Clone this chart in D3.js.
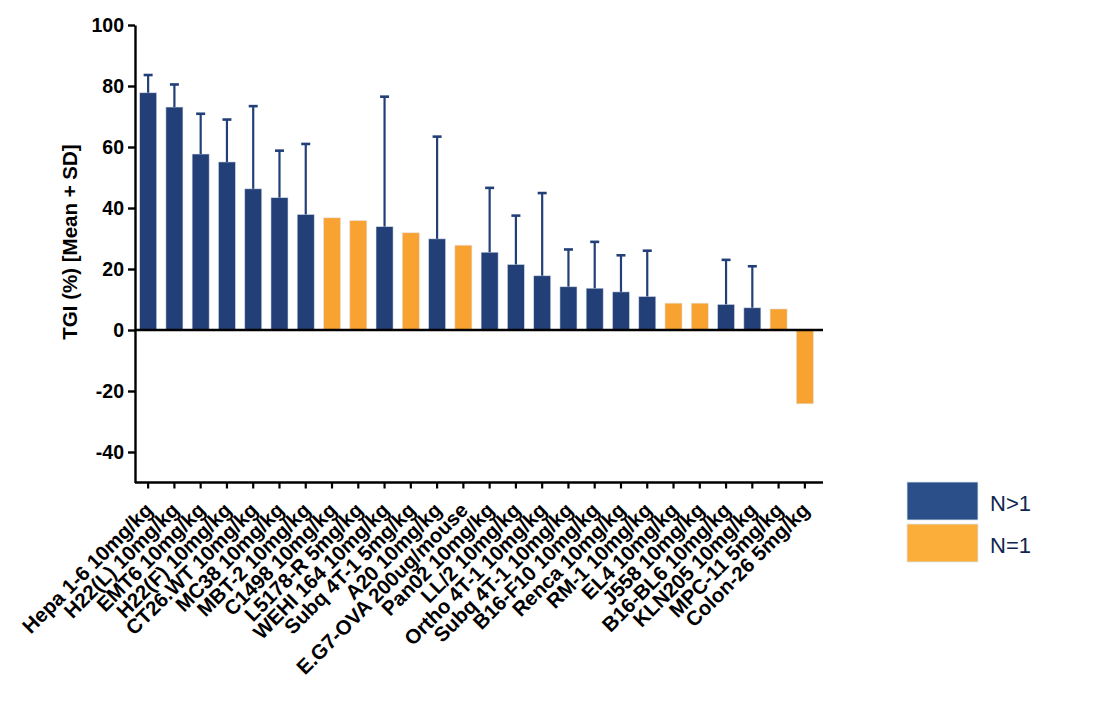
<!DOCTYPE html>
<html>
<head>
<meta charset="utf-8">
<script src="https://cdn.jsdelivr.net/npm/d3@7"></script>
<style>
  body { margin: 0; background: #fff; }
  svg, svg text { font-family: "Liberation Sans", Arial, sans-serif; }
</style>
</head>
<body>
<div id="chart"></div>
<script>
// Tumour models, in plotted order
const models = [
    'Hepa 1-6 10mg/kg', 'H22(L) 10mg/kg', 'EMT6 10mg/kg', 'H22(F) 10mg/kg',
    'CT26.WT 10mg/kg', 'MC38 10mg/kg', 'MBT-2 10mg/kg', 'C1498 10mg/kg',
    'L5178-R 5mg/kg', 'WEHI 164 10mg/kg', 'Subq 4T-1 5mg/kg', 'A20 10mg/kg',
    'E.G7-OVA 200ug/mouse', 'Pan02 10mg/kg', 'LL/2 10mg/kg', 'Ortho 4T-1 10mg/kg',
    'Subq 4T-1 10mg/kg', 'B16-F10 10mg/kg', 'Renca 10mg/kg', 'RM-1 10mg/kg',
    'EL4 10mg/kg', 'J558 10mg/kg', 'B16-BL6 10mg/kg', 'KLN205 10mg/kg',
    'MPC-11 5mg/kg', 'Colon-26 5mg/kg'
];
// mean TGI (%)
const tgiMean = [77.8, 73.1, 57.7, 55.1, 46.3, 43.4, 37.9, 36.8, 35.9, 33.9, 31.9, 29.9,
                 27.8, 25.5, 21.5, 17.8, 14.2, 13.7, 12.5, 11.0, 8.8, 8.8, 8.4, 7.3, 6.9, -24.2];
// SD (null where N = 1)
const tgiSD = [5.8, 7.4, 13.2, 13.9, 27.1, 15.4, 23.1, null, null, 42.6, null, 33.5,
               null, 21.1, 16.0, 27.1, 12.2, 15.2, 12.0, 15.0, null, null, 14.6, 13.6, null, null];
// group per model
const groups = ['N>1', 'N>1', 'N>1', 'N>1', 'N>1', 'N>1', 'N>1', 'N=1', 'N=1', 'N>1', 'N=1', 'N>1',
                'N=1', 'N>1', 'N>1', 'N>1', 'N>1', 'N>1', 'N>1', 'N>1', 'N=1', 'N=1', 'N>1', 'N>1', 'N=1', 'N=1'];
const yTicks = [-40, -20, 0, 20, 40, 60, 80, 100];
const legendItems = [
    { label: 'N>1', color: '#2b5089' },
    { label: 'N=1', color: '#fbae3a' }
];

const barColor = { 'N>1': '#223f78', 'N=1': '#f8a232' };

const data = models.map((m, i) => ({ model: m, mean: tgiMean[i], sd: tgiSD[i], group: groups[i] }));

const width = 1094, height = 703;
const svg = d3.select('#chart').append('svg')
    .attr('width', width)
    .attr('height', height);

const x = d3.scaleBand()
    .domain(models)
    .range([135, 818])
    .paddingInner(0.35)
    .paddingOuter(0.175);

const y = d3.scaleLinear()
    .domain([-50, 100])
    .range([482.5, 25]);

// bars
svg.append('g')
    .selectAll('rect')
    .data(data)
    .enter()
    .append('rect')
    .attr('x', d => x(d.model))
    .attr('width', x.bandwidth())
    .attr('y', d => y(Math.max(0, d.mean)))
    .attr('height', d => Math.abs(y(d.mean) - y(0)))
    .attr('fill', d => barColor[d.group])
    .attr('stroke', '#e4e8f0')
    .attr('stroke-opacity', 0.7)
    .attr('stroke-width', 0.8);

// error bars (mean + SD)
const err = svg.append('g')
    .selectAll('g')
    .data(data.filter(d => d.sd != null))
    .enter()
    .append('g')
    .attr('stroke', '#223f78');

err.append('line')
    .attr('x1', d => x(d.model) + x.bandwidth() / 2)
    .attr('x2', d => x(d.model) + x.bandwidth() / 2)
    .attr('y1', d => y(d.mean))
    .attr('y2', d => y(d.mean + d.sd))
    .attr('stroke-width', 2.2);

err.append('line')
    .attr('x1', d => x(d.model) + x.bandwidth() / 2 - 4.5)
    .attr('x2', d => x(d.model) + x.bandwidth() / 2 + 4.5)
    .attr('y1', d => y(d.mean + d.sd))
    .attr('y2', d => y(d.mean + d.sd))
    .attr('stroke-width', 2.6);

// zero line
const xEnd = x.range()[1] + 5;
svg.append('line')
    .attr('x1', x.range()[0])
    .attr('x2', xEnd)
    .attr('y1', y(0))
    .attr('y2', y(0))
    .attr('stroke', '#000')
    .attr('stroke-width', 2.6);

// y axis
const yAxis = svg.append('g')
    .attr('transform', `translate(${x.range()[0]},0)`)
    .call(d3.axisLeft(y).tickValues(yTicks).tickFormat(d => String(d))
        .tickSize(7).tickSizeOuter(0).tickPadding(4));
yAxis.attr('font-family', null);
yAxis.select('.domain').attr('stroke-width', 2.4);
yAxis.selectAll('.tick line').attr('stroke-width', 2.4);
yAxis.selectAll('text')
    .style('font-size', '19.5px')
    .style('font-weight', 'bold')
    .attr('fill', '#000');

// x axis
const xAxis = svg.append('g')
    .attr('transform', `translate(0,${y(-50)})`)
    .call(d3.axisBottom(x).tickSize(6).tickSizeOuter(0));
xAxis.attr('font-family', null);
xAxis.select('.domain').remove();
xAxis.selectAll('.tick line').attr('stroke-width', 2.2);
xAxis.selectAll('text')
    .style('font-size', '20.5px')
    .style('font-weight', 'bold')
    .attr('fill', '#000')
    .attr('text-anchor', 'end')
    .attr('y', 0)
    .attr('dy', 0)
    .attr('transform', 'translate(6,29) rotate(-45)');
svg.append('line')
    .attr('x1', x.range()[0])
    .attr('x2', xEnd)
    .attr('y1', y(-50))
    .attr('y2', y(-50))
    .attr('stroke', '#000')
    .attr('stroke-width', 2.4);

// y axis title
svg.append('text')
    .attr('transform', 'translate(77,242) rotate(-90)')
    .attr('text-anchor', 'middle')
    .style('font-size', '20.5px')
    .style('font-weight', 'bold')
    .text('TGI (%) [Mean + SD]');

// legend
const legend = svg.append('g')
    .attr('transform', 'translate(907,482)');
const li = legend.selectAll('g')
    .data(legendItems)
    .enter()
    .append('g')
    .attr('transform', (d, i) => `translate(0,${i * 42})`);
li.append('rect')
    .attr('width', 71)
    .attr('height', 38)
    .attr('fill', d => d.color)
    .attr('stroke', '#dfe6f0')
    .attr('stroke-width', 0.8);
li.append('text')
    .attr('x', 83)
    .attr('y', 29)
    .style('font-size', '22px')
    .attr('fill', '#0f2650')
    .text(d => d.label);
</script>
</body>
</html>
